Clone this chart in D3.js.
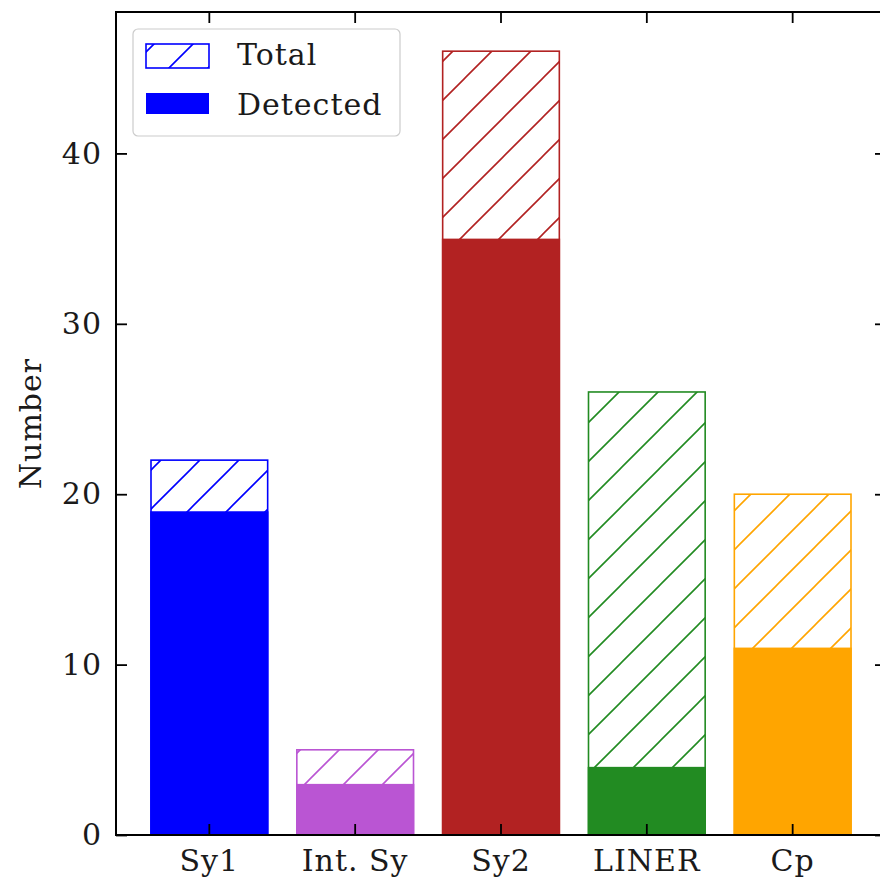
<!DOCTYPE html>
<html>
<head>
<meta charset="utf-8">
<script src="https://cdn.jsdelivr.net/npm/d3@7"></script>
<style>
  body { margin: 0; background: #fff; }
  svg { display: block; font-family: "DejaVu Serif", serif; }
  svg text { letter-spacing: 1px; }
</style>
</head>
<body>
<svg id="chart" width="880" height="879"></svg>
<script>
// data
const categories = ["Sy1", "Int. Sy", "Sy2", "LINER", "Cp"];
const totals = [22, 5, 46, 26, 20];
const detected = [19, 3, 35, 4, 11];
const colors = ["#0000ff", "#ba55d3", "#b22222", "#228b22", "#ffa500"];
const yTicks = [0, 10, 20, 30, 40];
const legendLabels = ["Total", "Detected"];

const svg = d3.select("#chart");
const plotLeft = 116, plotRight = 886, plotTop = 12, plotBottom = 835;
const fontSize = 30;

const x = d3.scaleBand()
  .domain(categories)
  .range([plotLeft, plotRight])
  .paddingInner(0.2)
  .paddingOuter(0.24);

const y = d3.scaleLinear()
  .domain([0, d3.max(totals) * 1.05])
  .range([plotBottom, plotTop]);

// hatch patterns, one per colour
const defs = svg.append("defs");
const hatchSize = 39;
colors.forEach((c, i) => {
  const p = defs.append("pattern")
    .attr("id", "hatch" + i)
    .attr("patternUnits", "userSpaceOnUse")
    .attr("width", hatchSize)
    .attr("height", hatchSize)
    .attr("patternTransform", "translate(-3,0)");
  p.append("rect").attr("width", hatchSize).attr("height", hatchSize).attr("fill", "#fff");
  p.append("path")
    .attr("d", `M-2,${hatchSize + 2}L${hatchSize + 2},-2 M-2,2L2,-2 M${hatchSize - 2},${hatchSize + 2}L${hatchSize + 2},${hatchSize - 2}`)
    .attr("stroke", c)
    .attr("stroke-width", 1.6);
});

const data = categories.map((c, i) => ({ cat: c, total: totals[i], det: detected[i], i }));

// total bars (hatched)
svg.append("g").selectAll("rect")
  .data(data)
  .join("rect")
  .attr("x", d => x(d.cat))
  .attr("y", d => y(d.total))
  .attr("width", x.bandwidth())
  .attr("height", d => y(0) - y(d.total))
  .attr("fill", d => `url(#hatch${d.i})`)
  .attr("stroke", d => colors[d.i])
  .attr("stroke-width", 1.6);

// detected bars (solid)
svg.append("g").selectAll("rect")
  .data(data)
  .join("rect")
  .attr("x", d => x(d.cat) - 0.8)
  .attr("y", d => y(d.det))
  .attr("width", x.bandwidth() + 1.6)
  .attr("height", d => y(0) - y(d.det))
  .attr("fill", d => colors[d.i]);

// axes, ticks pointing inward
const tickLen = 11;
const styleAxis = g => {
  g.select(".domain").remove();
  g.selectAll(".tick line").attr("stroke", "#000").attr("stroke-width", 1.8);
  g.selectAll(".tick text").attr("fill", "#1a1a1a").style("font-size", fontSize + "px").style("font-family", "DejaVu Serif, serif");
};

svg.append("g")
  .attr("transform", `translate(${plotLeft},0)`)
  .call(d3.axisLeft(y).tickValues(yTicks).tickSizeInner(-tickLen).tickSizeOuter(0).tickPadding(14))
  .call(styleAxis);

svg.append("g")
  .attr("transform", `translate(${plotRight},0)`)
  .call(d3.axisRight(y).tickValues(yTicks).tickSizeInner(-tickLen).tickSizeOuter(0).tickFormat(""))
  .call(styleAxis);

svg.append("g")
  .attr("transform", `translate(0,${plotBottom})`)
  .call(d3.axisBottom(x).tickSizeInner(-tickLen).tickSizeOuter(0).tickPadding(15))
  .call(styleAxis);

svg.append("g")
  .attr("transform", `translate(0,${plotTop})`)
  .call(d3.axisTop(x).tickSizeInner(-tickLen).tickSizeOuter(0).tickFormat(""))
  .call(styleAxis);

// frame
svg.append("rect")
  .attr("x", plotLeft).attr("y", plotTop)
  .attr("width", plotRight - plotLeft).attr("height", plotBottom - plotTop)
  .attr("fill", "none")
  .attr("stroke", "#000")
  .attr("stroke-width", 2);

// y label
svg.append("text")
  .attr("transform", `translate(41,${(plotTop + plotBottom) / 2}) rotate(-90)`)
  .attr("text-anchor", "middle")
  .attr("fill", "#1a1a1a")
  .style("font-size", fontSize + "px")
  .text("Number");

// legend
const lg = svg.append("g").attr("transform", "translate(133,29)");
lg.append("rect")
  .attr("width", 267).attr("height", 107)
  .attr("rx", 5)
  .attr("fill", "#fff").attr("fill-opacity", 0.8)
  .attr("stroke", "#ccc").attr("stroke-width", 1.2);
lg.append("rect")
  .attr("x", 13).attr("y", 15).attr("width", 63).attr("height", 24)
  .attr("fill", "url(#hatch0)")
  .attr("stroke", colors[0]).attr("stroke-width", 1.6);
lg.append("rect")
  .attr("x", 13).attr("y", 64).attr("width", 63).attr("height", 21)
  .attr("fill", colors[0]);
lg.selectAll("text.lab")
  .data(legendLabels)
  .join("text")
  .attr("class", "lab")
  .attr("x", 104)
  .attr("y", (d, i) => 36 + i * 50)
  .attr("fill", "#1a1a1a")
  .style("font-size", fontSize + "px")
  .text(d => d);
</script>
</body>
</html>
